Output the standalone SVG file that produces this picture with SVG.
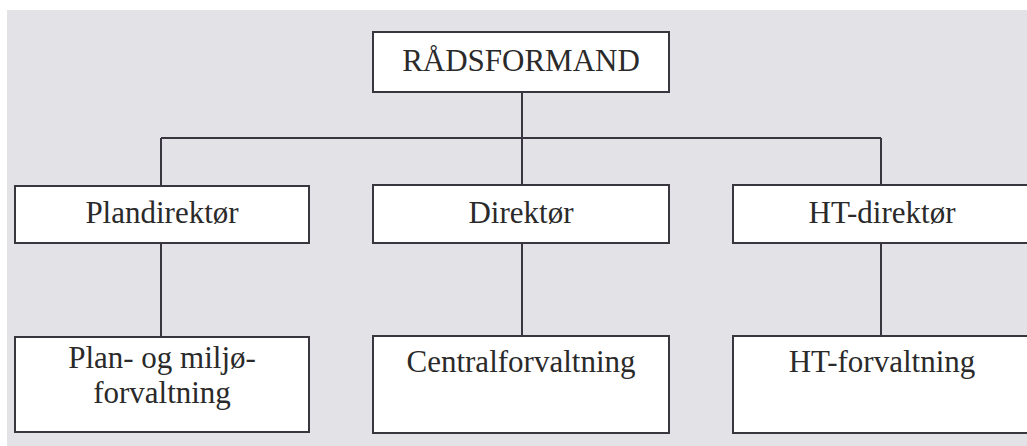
<svg xmlns="http://www.w3.org/2000/svg" width="1027" height="446" viewBox="0 0 1027 446">
<style>
.box{fill:#ffffff;stroke:#3a3640;stroke-width:2}
.lbl{font-family:"Liberation Serif","Times New Roman",serif;font-size:31px;fill:#2a2a2a;text-anchor:middle}
.con{stroke:#3a3640;stroke-width:2;fill:none}
</style>
<rect x="0" y="0" width="1027" height="446" fill="#ffffff"/>
<rect x="7" y="10" width="1020" height="436" fill="#e3e3e7"/>
<g id="connectors">
<line class="con" x1="522" y1="92" x2="522" y2="185"/>
<line class="con" x1="161" y1="138" x2="881" y2="138"/>
<line class="con" x1="161" y1="138" x2="161" y2="186"/>
<line class="con" x1="881" y1="138" x2="881" y2="185"/>
<line class="con" x1="161" y1="243" x2="161" y2="337"/>
<line class="con" x1="522" y1="243" x2="522" y2="336"/>
<line class="con" x1="881" y1="243" x2="881" y2="336"/>
</g>
<g id="n-radsformand">
<rect class="box" x="373" y="32" width="296" height="60"/>
<text class="lbl" x="521" y="71">RÅDSFORMAND</text>
</g>
<g id="n-plandirektor">
<rect class="box" x="15" y="186" width="294" height="57"/>
<text class="lbl" x="162" y="223">Plandirektør</text>
</g>
<g id="n-direktor">
<rect class="box" x="373" y="185" width="296" height="58"/>
<text class="lbl" x="521" y="223">Direktør</text>
</g>
<g id="n-htdirektor">
<rect class="box" x="733" y="185" width="300" height="58"/>
<text class="lbl" x="882" y="223">HT-direktør</text>
</g>
<g id="n-planmiljo">
<rect class="box" x="15" y="337" width="294" height="95"/>
<text class="lbl" x="162" y="368">Plan- og miljø-</text>
<text class="lbl" x="162" y="403">forvaltning</text>
</g>
<g id="n-central">
<rect class="box" x="373" y="336" width="296" height="97"/>
<text class="lbl" x="521" y="372">Centralforvaltning</text>
</g>
<g id="n-htforvaltning">
<rect class="box" x="733" y="336" width="300" height="97"/>
<text class="lbl" x="882" y="372">HT-forvaltning</text>
</g>
</svg>
